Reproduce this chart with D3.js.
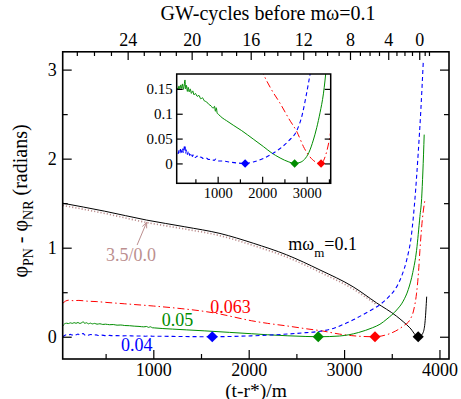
<!DOCTYPE html>
<html>
<head>
<meta charset="utf-8">
<script src="https://cdn.jsdelivr.net/npm/d3@7"></script>
<style>
  body { margin: 0; background: #fff; }
</style>
</head>
<body>
<svg id="chart" width="461" height="399"></svg>
<script>
/**
 * Data: [time (t-r*)/m, phase difference]
 */
var curveBlack = [[50,1.50],[490,1.41],[930,1.31],[1330,1.235],[1699,1.16],[2048,1.05],[2398,0.92],
    [2747,0.75],[3096,0.56],[3341,0.38],[3551,0.23],[3690,0.10],[3777,0],[3800,0.008],[3830,0.05],
    [3850,0.18],[3866,0.45]];

var curvePN = [[50,1.475],[490,1.385],[930,1.283],[1330,1.21],[1699,1.135],[2048,1.025],[2398,0.895],
    [2747,0.725],[3096,0.535],[3341,0.36]];

var curveRed = [[50,0.375],[80,0.40],[110,0.41],[160,0.405],[220,0.408],[300,0.40],[400,0.395],
    [500,0.386],[700,0.37],[1000,0.345],[1300,0.315],[1500,0.29],[1700,0.255],[1850,0.22],[2027,0.18],
    [2200,0.15],[2403,0.121],[2600,0.09],[2778,0.064],[2950,0.03],[3075,0.013],[3200,0.003],[3324,0],
    [3420,0.015],[3480,0.035],[3540,0.064],[3620,0.12],[3690,0.19],[3730,0.30],[3760,0.49],[3780,0.72],
    [3795,0.97],[3820,1.31],[3850,1.55]];

var curveGreen = [[50,0.12],[70,0.145],[90,0.152],[110,0.148],[130,0.156],[150,0.150],[170,0.158],
    [190,0.151],[210,0.160],[230,0.149],[250,0.158],[266,0.168],[280,0.150],[300,0.157],[320,0.145],
    [340,0.153],[360,0.144],[385,0.150],[410,0.141],[440,0.146],[470,0.138],[500,0.141],[540,0.135],
    [580,0.137],[620,0.130],[660,0.132],[700,0.126],[750,0.124],[800,0.119],[850,0.116],[900,0.111],
    [930,0.115],[950,0.105],[970,0.112],[990,0.101],[1015,0.099],[1100,0.092],[1200,0.086],[1350,0.077],
    [1540,0.066],[1800,0.049],[2027,0.034],[2200,0.022],[2403,0.011],[2600,0.003],[2729,0],[2850,0.002],
    [2950,0.008],[3050,0.022],[3150,0.047],[3226,0.072],[3300,0.102],[3376,0.14],[3450,0.20],[3551,0.30],
    [3620,0.40],[3673,0.53],[3720,0.72],[3760,0.97],[3795,1.35],[3813,1.55],[3826,1.85],[3840,2.27]];

var curveBlue = [[50,0.0],[70,0.015],[90,0.022],[110,0.018],[130,0.026],[150,0.020],[170,0.031],
    [190,0.022],[210,0.030],[230,0.021],[250,0.033],[266,0.037],[280,0.020],[300,0.027],[320,0.018],
    [345,0.025],[370,0.016],[400,0.021],[430,0.014],[460,0.018],[500,0.012],[540,0.015],[580,0.011],
    [620,0.013],[680,0.010],[740,0.011],[800,0.008],[860,0.009],[920,0.006],[960,0.009],[1000,0.005],
    [1100,0.005],[1250,0.003],[1420,0.001],[1618,0],[1800,0.003],[2027,0.010],[2200,0.018],[2403,0.030],
    [2600,0.046],[2778,0.066],[2900,0.098],[3000,0.142],[3096,0.19],[3250,0.28],[3376,0.36],[3470,0.45],
    [3551,0.56],[3610,0.70],[3656,0.86],[3708,1.16],[3743,1.55],[3777,2.06],[3805,2.55],[3830,3.08]];

// diamonds where each curve touches zero
var markTimes = [1618, 2729, 3324, 3777];
var markColors = ["#0000ff", "#008c00", "#ff0000", "#000000"];

// GW cycles left before m omega = 0.1, and the time where that count is reached
var cycleCounts = [27,26,25,24,23,22,21,20,19,18,17,16,15,14,13,12,11,10,9,8,7,6,5,4,3,2,1,0,-1,-2];
var cycleTimes = [198,378,556,731,900,1068,1236,1402,1560,1715,1868,2021,2162,2300,2437,2572,2698,
    2822,2943,3062,3166,3267,3366,3463,3549,3633,3712,3788,3845,3890];

var xMajor = [1000, 2000, 3000, 4000];
var xMinor = [500, 1500, 2500, 3500];
var yMajor = [0, 1, 2, 3];
var yMinor = [0.5, 1.5, 2.5];
var insetXMajor = [1000, 2000, 3000];
var insetXMinor = [500, 1500, 2500, 3500];
var insetYMajor = [0, 0.05, 0.1, 0.15];

var serif = "Liberation Serif";
var plain = function(d){ return String(d); };

var svg = d3.select("#chart").style("font-family", serif);

var x = d3.scaleLinear().domain([50, 4100]).range([62.7, 449]);
var y = d3.scaleLinear().domain([-0.25, 3.2]).range([359, 51.8]);

var series = [
    {data: curvePN, color: "#bc8f8f", dash: "1.2,2", width: 1.6},
    {data: curveBlack, color: "#000", dash: null, width: 1},
    {data: curveRed, color: "#ff0000", dash: "7,3,1.5,3", width: 1},
    {data: curveGreen, color: "#008c00", dash: null, width: 1},
    {data: curveBlue, color: "#0000ff", dash: "4,3", width: 1.1}
];

function styleAxis(g, size) {
    g.attr("font-size", size).style("font-family", serif);
    g.selectAll(".domain").remove();
    g.selectAll("line").attr("stroke", "#000").attr("stroke-width", 1.2);
    g.selectAll("text").attr("fill", "#000").style("font-family", serif);
}

function drawPanel(root, xs, ys, clipId, marker) {
    var r0 = xs.range(), d0 = ys.range();
    root.append("clipPath").attr("id", clipId)
        .append("rect")
        .attr("x", r0[0]).attr("y", d0[1])
        .attr("width", r0[1] - r0[0]).attr("height", d0[0] - d0[1]);

    var line = d3.line()
        .curve(d3.curveMonotoneX)
        .x(function(d){ return xs(d[0]); })
        .y(function(d){ return ys(d[1]); });

    var plot = root.append("g").attr("clip-path", "url(#" + clipId + ")");
    series.forEach(function(s){
        plot.append("path")
            .datum(s.data)
            .attr("d", line)
            .style("fill", "none")
            .style("stroke", s.color)
            .style("stroke-width", s.width)
            .style("stroke-dasharray", s.dash);
    });

    plot.selectAll("path.mark")
        .data(markTimes)
        .enter()
        .append("path")
        .attr("class", "mark")
        .attr("d", d3.symbol(d3.symbolSquare, marker))
        .attr("fill", function(d, i){ return markColors[i]; })
        .attr("transform", function(d){
            return "translate(" + xs(d) + "," + ys(0) + ") rotate(45)";
        });
}

// main panel
drawPanel(svg, x, y, "clipMain", 62);

svg.append("g")
    .attr("transform", "translate(0,359)")
    .call(d3.axisBottom(x).tickValues(xMajor).tickSize(-9).tickPadding(4).tickFormat(plain))
    .call(styleAxis, 18);
svg.append("g")
    .attr("transform", "translate(0,359)")
    .call(d3.axisBottom(x).tickValues(xMinor).tickSize(-5).tickFormat(""))
    .call(styleAxis, 18);

svg.append("g")
    .attr("transform", "translate(62.7,0)")
    .call(d3.axisLeft(y).tickValues(yMajor).tickSize(-9).tickPadding(6).tickFormat(plain))
    .call(styleAxis, 18);
svg.append("g")
    .attr("transform", "translate(62.7,0)")
    .call(d3.axisLeft(y).tickValues(yMinor).tickSize(-5).tickFormat(""))
    .call(styleAxis, 18);
svg.append("g")
    .attr("transform", "translate(449,0)")
    .call(d3.axisRight(y).tickValues(yMajor).tickSize(-9).tickFormat(""))
    .call(styleAxis, 18);
svg.append("g")
    .attr("transform", "translate(449,0)")
    .call(d3.axisRight(y).tickValues(yMinor).tickSize(-5).tickFormat(""))
    .call(styleAxis, 18);

// top axis: GW cycles
var cycleMajorTimes = [], cycleMajorLabels = [], cycleMinorTimes = [];
cycleCounts.forEach(function(c, i){
    if (c >= 0 && c % 4 === 0) {
        cycleMajorTimes.push(cycleTimes[i]);
        cycleMajorLabels.push(String(c));
    } else {
        cycleMinorTimes.push(cycleTimes[i]);
    }
});
svg.append("g")
    .attr("transform", "translate(0,52)")
    .call(d3.axisTop(x).tickValues(cycleMajorTimes).tickSize(-8).tickPadding(6)
        .tickFormat(function(d, i){ return cycleMajorLabels[i]; }))
    .call(styleAxis, 18);
svg.append("g")
    .attr("transform", "translate(0,52)")
    .call(d3.axisTop(x).tickValues(cycleMinorTimes).tickSize(-4).tickFormat(""))
    .call(styleAxis, 18);

svg.append("rect")
    .attr("x", 62.7).attr("y", 51.8)
    .attr("width", 449 - 62.7).attr("height", 359 - 51.8)
    .attr("fill", "none").attr("stroke", "#000").attr("stroke-width", 1.6);

// axis titles
svg.append("text")
    .attr("x", 256).attr("y", 396.5)
    .attr("text-anchor", "middle")
    .attr("font-size", 19.5)
    .text("(t-r*)/m");

svg.append("text")
    .attr("x", 268).attr("y", 20)
    .attr("text-anchor", "middle")
    .attr("font-size", 20)
    .text("GW-cycles before m\u03c9=0.1");

var yTitle = svg.append("text")
    .attr("transform", "translate(27,201) rotate(-90)")
    .attr("text-anchor", "middle")
    .attr("font-size", 20);
yTitle.append("tspan").text("\u03c6");
yTitle.append("tspan").attr("dy", 6).attr("font-size", 14).text("PN");
yTitle.append("tspan").attr("dy", -6).text(" - \u03c6");
yTitle.append("tspan").attr("dy", 6).attr("font-size", 14).text("NR");
yTitle.append("tspan").attr("dy", -6).text(" (radians)");

// curve labels
var labels = [
    {t: 2415, v: 0.975, color: "#000"},
    {t: 1596, v: 0.27, color: "#ff0000", text: "0.063"},
    {t: 1088, v: 0.115, color: "#008c00", text: "0.05"},
    {t: 661, v: -0.165, color: "#0000ff", text: "0.04"},
    {t: 504, v: 0.85, color: "#bc8f8f", text: "3.5/0.0"}
];
labels.forEach(function(l){
    var t = svg.append("text")
        .attr("x", x(l.t)).attr("y", y(l.v))
        .attr("font-size", 18)
        .attr("fill", l.color);
    if (l.text) {
        t.text(l.text);
    } else {
        t.append("tspan").text("m\u03c9");
        t.append("tspan").attr("dy", 7).attr("font-size", 13).text("m");
        t.append("tspan").attr("dy", -7).text("=0.1");
    }
});

// arrow from "3.5/0.0" up to the dotted curve
var a0 = [x(830), y(1.03)], a1 = [x(930), y(1.285)];
var ang = Math.atan2(a1[1] - a0[1], a1[0] - a0[0]);
svg.append("line")
    .attr("x1", a0[0]).attr("y1", a0[1]).attr("x2", a1[0]).attr("y2", a1[1])
    .attr("stroke", "#bc8f8f").attr("stroke-width", 1);
svg.append("path")
    .attr("d", "M" + (a1[0] - 6 * Math.cos(ang - 0.4)) + "," + (a1[1] - 6 * Math.sin(ang - 0.4)) +
        "L" + a1[0] + "," + a1[1] +
        "L" + (a1[0] - 6 * Math.cos(ang + 0.4)) + "," + (a1[1] - 6 * Math.sin(ang + 0.4)))
    .attr("fill", "none").attr("stroke", "#bc8f8f").attr("stroke-width", 1);

// inset
var ix = d3.scaleLinear().domain([80, 3540]).range([176.7, 330.7]);
var iy = d3.scaleLinear().domain([-0.04, 0.18]).range([183.3, 74]);

var inset = svg.append("g");
inset.append("rect")
    .attr("x", 176.7).attr("y", 74).attr("width", 154).attr("height", 109.3)
    .attr("fill", "#fff");

drawPanel(inset, ix, iy, "clipInset", 36);

inset.append("g")
    .attr("transform", "translate(0,183.3)")
    .call(d3.axisBottom(ix).tickValues(insetXMajor).tickSize(-6.5).tickPadding(4.5).tickFormat(plain))
    .call(styleAxis, 14.5);
inset.append("g")
    .attr("transform", "translate(0,183.3)")
    .call(d3.axisBottom(ix).tickValues(insetXMinor).tickSize(-4).tickFormat(""))
    .call(styleAxis, 14.5);
inset.append("g")
    .attr("transform", "translate(176.7,0)")
    .call(d3.axisLeft(iy).tickValues(insetYMajor).tickSize(-6).tickPadding(4).tickFormat(plain))
    .call(styleAxis, 15);
inset.append("g")
    .attr("transform", "translate(330.7,0)")
    .call(d3.axisRight(iy).tickValues(insetYMajor).tickSize(-6).tickFormat(""))
    .call(styleAxis, 15);

inset.append("rect")
    .attr("x", 176.7).attr("y", 74).attr("width", 154).attr("height", 109.3)
    .attr("fill", "none").attr("stroke", "#000").attr("stroke-width", 1.5);
</script>
</body>
</html>
